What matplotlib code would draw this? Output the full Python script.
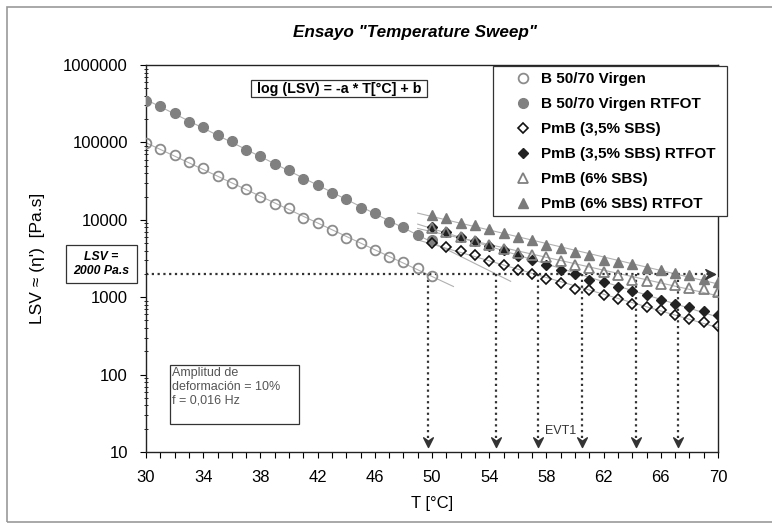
import numpy as np
import matplotlib
matplotlib.use('Agg')
import matplotlib.pyplot as plt
from matplotlib.path import Path
from matplotlib.patches import Rectangle

plt.rcParams['font.family'] = ['Liberation Sans', 'DejaVu Sans']

# temperature sweep readings (T in degC, LSV in Pa.s)
T_b = [30, 31, 32, 33, 34, 35, 36, 37, 38, 39, 40, 41, 42, 43, 44, 45, 46, 47, 48, 49, 50]
lsv_b = [97000, 82000, 68600, 55200, 46100, 37000, 29500, 24700, 19800, 16000, 14000,
         10600, 8970, 7350, 5850, 5090, 4050, 3320, 2860, 2350, 1870]
lsv_b_rtfot = [342000, 297000, 237000, 184000, 159000, 124000, 105000, 79600, 67100, 51900, 43800,
               33500, 28100, 21900, 18500, 14000, 12100, 9250, 8110, 6340, 5500]

T_pmb = [50, 51, 52, 53, 54, 55, 56, 57, 58, 59, 60, 61, 62, 63, 64, 65, 66, 67, 68, 69, 70]
lsv_35 = [4950, 4470, 3930, 3490, 2950, 2590, 2230, 2020, 1740, 1530, 1290,
          1230, 1060, 962, 828, 748, 679, 585, 530, 479, 422]
lsv_35_rtfot = [8110, 6990, 6020, 5350, 4560, 4050, 3390, 3010, 2590, 2230, 2020,
                1690, 1580, 1360, 1210, 1060, 915, 828, 748, 659, 585]
lsv_6 = [7900, 6900, 6000, 5300, 4700, 4200, 3700, 3490, 3320, 2950, 2590,
         2350, 2120, 1920, 1660, 1610, 1500, 1430, 1330, 1260, 1170]
lsv_6_rtfot = [11500, 10400, 9150, 8540, 7500, 6780, 6020, 5460, 4700, 4300, 3850,
               3490, 3010, 2860, 2670, 2350, 2230, 2060, 1920, 1740, 1580]

labels = ['B 50/70 Virgen', 'B 50/70 Virgen RTFOT', 'PmB (3,5% SBS)',
          'PmB (3,5% SBS) RTFOT', 'PmB (6% SBS)', 'PmB (6% SBS) RTFOT']

lsv_target = 2000
T_arrows = [49.7, 54.5, 57.4, 60.5, 64.3, 67.2]
arrow_tip = 11.6

W, H = 772, 524
fig = plt.figure(figsize=(W / 100, H / 100), dpi=100)
ax = fig.add_axes([146 / W, 1 - 452 / H, 572 / W, 387 / H])

# trend lines (exponential fits, light gray)
def trend(T, y, t0, t1):
    c = np.polyfit(T, np.log10(y), 1)
    tt = np.array([t0, t1])
    ax.plot(tt, 10 ** np.polyval(c, tt), color='#b0b0b0', lw=0.8, zorder=1)

trend(T_b, lsv_b, 30, 51.5)
trend(T_b, lsv_b_rtfot, 30, 55.5)
for s in [lsv_35, lsv_35_rtfot, lsv_6, lsv_6_rtfot]:
    trend(T_pmb, s, 49, 70)

gray = '#808080'
ms = 7
ax.plot(T_b, lsv_b, 'o', ms=ms, mfc='none', mec='#8c8c8c', mew=1.3, label=labels[0], zorder=3)
ax.plot(T_b, lsv_b_rtfot, 'o', ms=ms, mfc=gray, mec=gray, label=labels[1], zorder=3)
ax.plot(T_pmb, lsv_35, 'D', ms=5.5, mfc='none', mec='#111111', mew=1.2, label=labels[2], zorder=3)
ax.plot(T_pmb, lsv_35_rtfot, 'D', ms=5.5, mfc='#222222', mec='#222222', label=labels[3], zorder=3)
ax.plot(T_pmb, lsv_6, '^', ms=7, mfc='none', mec=gray, mew=1.3, label=labels[4], zorder=3)
ax.plot(T_pmb, lsv_6_rtfot, '^', ms=7, mfc='#7a7a7a', mec='#7a7a7a', label=labels[5], zorder=3)

# dotted guide lines with stealth arrow heads
head_down = Path([(0, 0), (-0.5, 1.0), (0, 0.65), (0.5, 1.0), (0, 0)],
                 [Path.MOVETO, Path.LINETO, Path.LINETO, Path.LINETO, Path.CLOSEPOLY])
head_right = Path([(0, 0), (-1.0, 0.5), (-0.65, 0), (-1.0, -0.5), (0, 0)],
                  [Path.MOVETO, Path.LINETO, Path.LINETO, Path.LINETO, Path.CLOSEPOLY])
dot = (0, (1, 1.6))
ax.plot([30, 69.8], [lsv_target, lsv_target], color='#333333', lw=1.6, ls=dot, zorder=2)
ax.plot([69.8], [lsv_target], marker=head_right, ms=14, color='#333333', ls='none', zorder=4)
for t in T_arrows:
    ax.plot([t, t], [lsv_target, arrow_tip * 1.15], color='#333333', lw=1.6, ls=dot, zorder=2)
    ax.plot([t], [arrow_tip], marker=head_down, ms=14, color='#333333', ls='none', zorder=4)
ax.text(59.0, 18.5, 'EVT1', ha='center', va='center', fontsize=9, color='#333333')

ax.set_yscale('log')
ax.set_ylim(10, 1e6)
ax.set_xlim(30, 70)
ax.set_xticks(np.arange(30, 71, 4))
ax.set_xticks(np.arange(30, 71, 1), minor=True)
ax.set_yticks([10, 100, 1000, 10000, 100000, 1000000])
ax.set_yticklabels(['10', '100', '1000', '10000', '100000', '1000000'])
ax.tick_params(axis='both', which='major', labelsize=12, length=4, width=0.8, direction='out')
ax.tick_params(axis='y', which='major', pad=9)
ax.tick_params(axis='x', which='major', pad=9)
ax.tick_params(axis='x', which='minor', length=4, width=0.8, direction='out')
ax.tick_params(axis='y', which='minor', length=3, width=0.6, direction='inout')
for sp in ax.spines.values():
    sp.set_color('#222222')
    sp.set_linewidth(1.0)

ax.set_xlabel('T [°C]', fontsize=12, labelpad=8)
ax.set_ylabel("LSV ≈ (η')  [Pa.s]", fontsize=12.5)
ax.yaxis.set_label_coords(-0.177, 0.5)

fig.text(415 / W, 1 - 32 / H, 'Ensayo "Temperature Sweep"', ha='center', va='center',
         fontsize=12.3, fontweight='bold', fontstyle='italic')

# annotation boxes
def box(x0, y0, x1, y1, z=5):
    fig.add_artist(Rectangle((x0 / W, 1 - y1 / H), (x1 - x0) / W, (y1 - y0) / H,
                             transform=fig.transFigure, fill=True, fc='white',
                             ec='#333333', lw=0.9, zorder=z))

# legend: frame drawn by hand so marker/text offsets match
box(493, 65.5, 727, 216, z=4)
leg = fig.legend(loc='upper left', bbox_to_anchor=(514 / W, 1 - 72 / H),
                 bbox_transform=fig.transFigure, numpoints=1,
                 prop={'weight': 'bold', 'size': 11}, frameon=False,
                 borderpad=0, labelspacing=0.72, handlelength=1.2,
                 handletextpad=0.55, borderaxespad=0)
leg.set_zorder(11)

box(251, 80, 427, 97)
fig.text(339 / W, 1 - 88.5 / H, 'log (LSV) = -a * T[°C] + b', ha='center', va='center',
         fontsize=10.3, fontweight='bold', zorder=6)

box(66, 245, 137, 283)
fig.text(101.5 / W, 1 - 264 / H, 'LSV =\n2000 Pa.s', ha='center', va='center',
         fontsize=8.8, fontweight='bold', fontstyle='italic', linespacing=1.3, zorder=6)

box(170, 365, 299, 424)
fig.text(172 / W, 1 - 367 / H, 'Amplitud de\ndeformación = 10%\nf = 0,016 Hz',
         ha='left', va='top', fontsize=9, color='#555555', linespacing=1.2, zorder=6)

# outer frame
fig.add_artist(Rectangle((7 / W, 1 - 522 / H), 800 / W, 515 / H, transform=fig.transFigure,
                         fill=False, ec='#999999', lw=1.2))

fig.savefig('out.png', dpi=100)
